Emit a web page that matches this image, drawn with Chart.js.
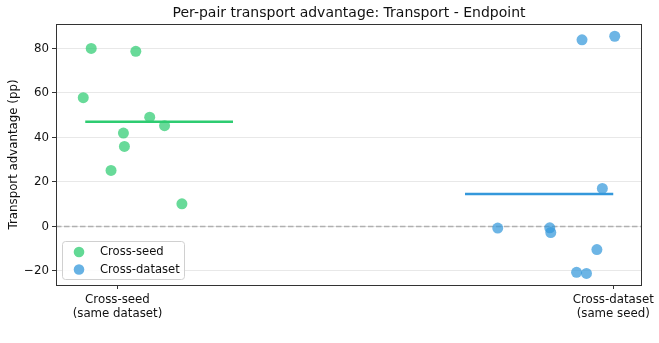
<!DOCTYPE html>
<html>
<head>
<meta charset="utf-8">
<script src="https://cdn.jsdelivr.net/npm/chart.js@4/dist/chart.umd.min.js"></script>
<style>
  body { margin: 0; background: #fff; }
  canvas { display: block; }
</style>
</head>
<body>
<canvas id="chart" width="659" height="343"></canvas>
<script>
const categories = [["Cross-seed", "(same dataset)"], ["Cross-dataset", "(same seed)"]];
const yTicks = [-20, 0, 20, 40, 60, 80];

// jittered positions around category 0 / 1
const seedX = [-0.053, 0.037, -0.069, 0.065, 0.095, 0.012, 0.014, -0.013, 0.130];
const seedY = [80.0, 78.7, 57.9, 49.1, 45.3, 42.0, 36.0, 25.2, 10.2];
const dataX = [0.937, 1.003, 0.978, 0.767, 0.872, 0.874, 0.967, 0.926, 0.946];
const dataY = [83.9, 85.5, 17.1, -0.7, -0.6, -2.7, -10.4, -20.6, -21.1];

const seedMean = 47.1;
const dataMean = 14.6;
const seedMeanSpan = [-0.065, 0.233];
const dataMeanSpan = [0.701, 1.0];

const green = "#2ecc71";
const blue = "#3498db";
const font = "'DejaVu Sans', sans-serif";

const toPts = (xs, ys) => xs.map((x, i) => ({x: x, y: ys[i]}));

const framePlugin = {
  id: "frame",
  beforeDatasetsDraw(chart) {
    const {ctx, chartArea: a, scales} = chart;
    const y0 = scales.y.getPixelForValue(0);
    ctx.save();
    ctx.strokeStyle = "#b0b0b0";
    ctx.lineWidth = 1.4;
    ctx.setLineDash([5.5, 2.5]);
    ctx.beginPath();
    ctx.moveTo(a.left, y0);
    ctx.lineTo(a.right, y0);
    ctx.stroke();
    ctx.restore();
  },
  afterDraw(chart) {
    const {ctx, chartArea: a} = chart;
    ctx.save();
    ctx.strokeStyle = "#333";
    ctx.lineWidth = 1;
    ctx.strokeRect(a.left + 0.5, a.top + 0.5, a.right - a.left - 1, a.bottom - a.top);

    // title
    ctx.fillStyle = "#111";
    ctx.font = "14px " + font;
    ctx.textAlign = "center";
    ctx.textBaseline = "middle";
    ctx.fillText("Per-pair transport advantage: Transport - Endpoint", (a.left + a.right) / 2, 13);

    // y label
    ctx.save();
    ctx.translate(14, (a.top + a.bottom) / 2);
    ctx.rotate(-Math.PI / 2);
    ctx.font = "11.8px " + font;
    ctx.fillText("Transport advantage (pp)", 0, 0);
    ctx.restore();

    // legend
    const lx = a.left + 6, ly = a.bottom - 44, lw = 122, lh = 38;
    ctx.fillStyle = "rgba(255,255,255,0.85)";
    ctx.strokeStyle = "#d0d0d0";
    ctx.beginPath();
    ctx.roundRect(lx + 0.5, ly + 0.5, lw, lh, 3);
    ctx.fill();
    ctx.stroke();
    const items = [["Cross-seed", green], ["Cross-dataset", blue]];
    items.forEach((it, i) => {
      const cy = ly + 11 + i * 17.5;
      ctx.globalAlpha = 0.75;
      ctx.fillStyle = it[1];
      ctx.beginPath();
      ctx.arc(lx + 17, cy, 5.3, 0, Math.PI * 2);
      ctx.fill();
      ctx.globalAlpha = 1;
      ctx.fillStyle = "#111";
      ctx.font = "11.6px " + font;
      ctx.textAlign = "left";
      ctx.fillText(it[0], lx + 38, cy);
    });
    ctx.restore();
  }
};

new Chart(document.getElementById("chart"), {
  type: "scatter",
  data: {
    datasets: [
      {
        label: "Cross-seed",
        data: toPts(seedX, seedY),
        backgroundColor: "rgba(46,204,113,0.72)",
        borderWidth: 0,
        pointRadius: 5.5,
        order: 2
      },
      {
        label: "Cross-dataset",
        data: toPts(dataX, dataY),
        backgroundColor: "rgba(52,152,219,0.72)",
        borderWidth: 0,
        pointRadius: 5.5,
        order: 2
      },
      {
        type: "line",
        data: seedMeanSpan.map(x => ({x: x, y: seedMean})),
        borderColor: green,
        borderWidth: 2.4,
        pointRadius: 0,
        order: 1
      },
      {
        type: "line",
        data: dataMeanSpan.map(x => ({x: x, y: dataMean})),
        borderColor: blue,
        borderWidth: 2.4,
        pointRadius: 0,
        order: 1
      }
    ]
  },
  options: {
    responsive: false,
    devicePixelRatio: 1,
    animation: false,
    layout: {padding: {left: 0, right: 17, top: 24, bottom: 0}},
    plugins: {legend: {display: false}, title: {display: false}, tooltip: {enabled: false}},
    scales: {
      x: {
        type: "linear",
        min: -0.124,
        max: 1.058,
        afterBuildTicks: s => { s.ticks = [0, 1].map(v => ({value: v})); },
        afterFit: s => { s.height = 58; },
        ticks: {
          callback: v => categories[v],
          color: "#111",
          font: {family: font, size: 11.8},
          padding: 4,
          maxRotation: 0
        },
        grid: {drawOnChartArea: false, tickLength: 4, tickColor: "#333"},
        border: {display: false}
      },
      y: {
        min: -26.3,
        max: 91,
        afterBuildTicks: s => { s.ticks = yTicks.map(v => ({value: v})); },
        afterFit: s => { s.width = 56; },
        ticks: {
          callback: v => (v < 0 ? "\u2212" + Math.abs(v) : String(v)),
          color: "#111",
          font: {family: font, size: 11.8},
          padding: 3
        },
        grid: {color: "#e8e8e8", lineWidth: 1, tickLength: 4, tickColor: "#333"},
        border: {display: false}
      }
    }
  },
  plugins: [framePlugin]
});
</script>
</body>
</html>
